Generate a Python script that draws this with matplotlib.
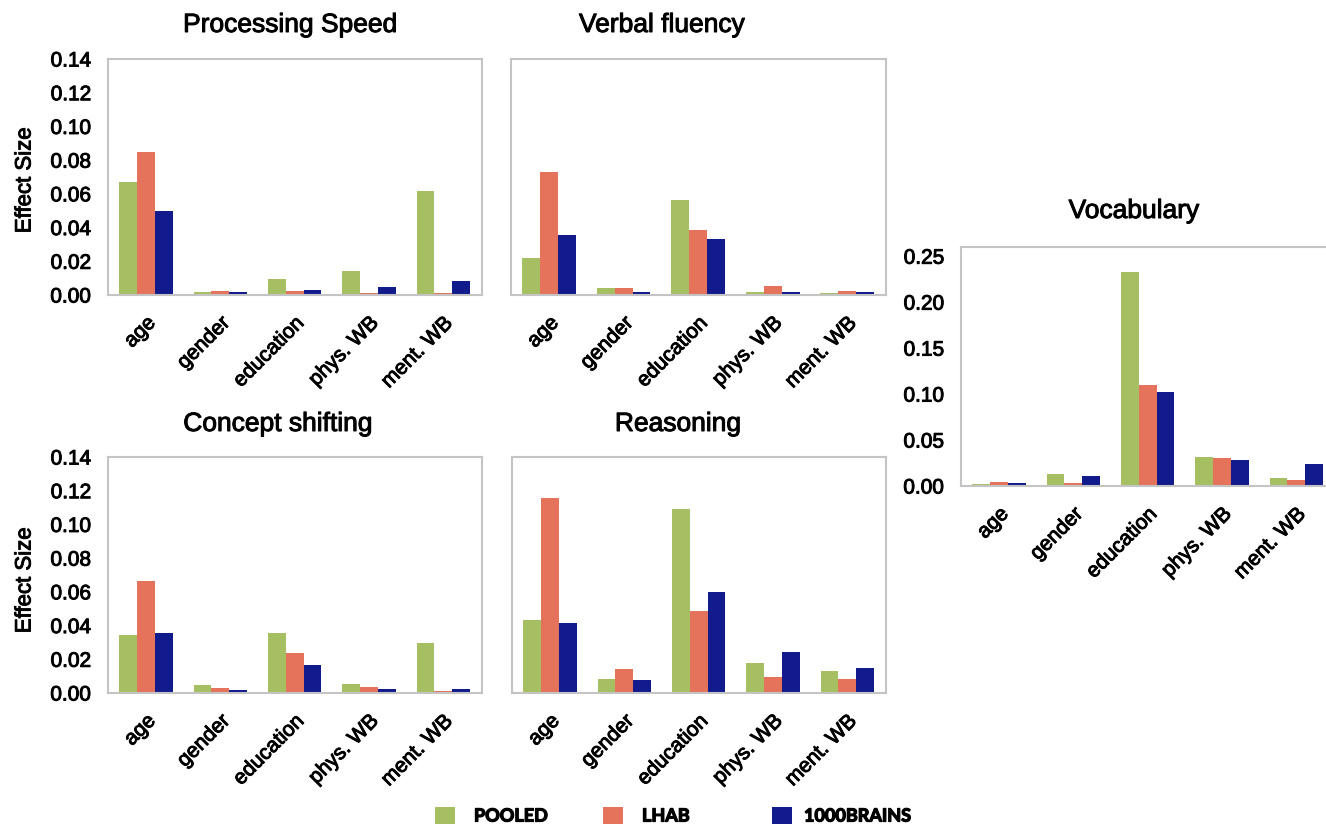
import numpy as np
import matplotlib
matplotlib.use("Agg")
import matplotlib.pyplot as plt
import matplotlib.patheffects as pe
from matplotlib.patches import Rectangle

plt.rcParams["font.family"] = ["Liberation Sans", "DejaVu Sans"]

W, H = 1326, 824  # canvas in pixels

FACTORS = ["age", "gender", "education", "phys. WB", "ment. WB"]
COHORTS = ["POOLED", "LHAB", "1000BRAINS"]
COLORS = ["#a6bf63", "#e5735c", "#111b8c"]

# effect sizes per factor, one list per cohort
speed_pooled = [0.067, 0.002, 0.0093, 0.0142, 0.0617]
speed_lhab = [0.085, 0.0025, 0.0025, 0.0012, 0.0012]
speed_1000b = [0.0498, 0.0015, 0.003, 0.005, 0.0083]

verbal_pooled = [0.0217, 0.0043, 0.0566, 0.0016, 0.0014]
verbal_lhab = [0.073, 0.0043, 0.0383, 0.0053, 0.0026]
verbal_1000b = [0.0355, 0.0016, 0.0333, 0.0016, 0.0016]

shift_pooled = [0.0342, 0.0045, 0.0356, 0.0055, 0.0299]
shift_lhab = [0.0666, 0.003, 0.0235, 0.0038, 0.0012]
shift_1000b = [0.0356, 0.0016, 0.0166, 0.0024, 0.0024]

reason_pooled = [0.0432, 0.0081, 0.1094, 0.0177, 0.0132]
reason_lhab = [0.1158, 0.0142, 0.0489, 0.0095, 0.0085]
reason_1000b = [0.0414, 0.0075, 0.0601, 0.0245, 0.0148]

vocab_pooled = [0.0025, 0.0134, 0.2326, 0.0315, 0.0083]
vocab_lhab = [0.0043, 0.003, 0.1094, 0.0308, 0.0069]
vocab_1000b = [0.003, 0.0109, 0.1022, 0.0286, 0.0236]

SMALL_TICKS = [0.0, 0.02, 0.04, 0.06, 0.08, 0.10, 0.12, 0.14]
VOCAB_TICKS = [0.0, 0.05, 0.10, 0.15, 0.20, 0.25]

# slightly heavier glyphs than plain regular weight
HEAVY = [pe.withStroke(linewidth=0.7, foreground="black")]


def px_rect(left, top, right, bottom):
    return [left / W, 1 - bottom / H, (right - left) / W, (bottom - top) / H]


# title, series, axes box (px), title centre x/y (px), y-limit, ticks, show y labels
panels = [
    ("Processing Speed", [speed_pooled, speed_lhab, speed_1000b],
     (108, 59, 482, 295), (290, 25), 0.14, SMALL_TICKS, True),
    ("Verbal fluency", [verbal_pooled, verbal_lhab, verbal_1000b],
     (511, 59, 886, 295), (662, 25), 0.14, SMALL_TICKS, False),
    ("Concept shifting", [shift_pooled, shift_lhab, shift_1000b],
     (108, 457, 482, 693), (278, 424), 0.14, SMALL_TICKS, True),
    ("Reasoning", [reason_pooled, reason_lhab, reason_1000b],
     (512, 457, 886, 693), (678, 424), 0.14, SMALL_TICKS, False),
    ("Vocabulary", [vocab_pooled, vocab_lhab, vocab_1000b],
     (961, 247, 1335, 486), (1134, 211), 0.26, VOCAB_TICKS, True),
]

fig = plt.figure(figsize=(W / 100, H / 100), dpi=100, facecolor="white")
bw = 0.24
x = np.arange(len(FACTORS))

for title, series, box, tpos, ytop, ticks, ylab in panels:
    ax = fig.add_axes(px_rect(*box))
    for k, vals in enumerate(series):
        ax.bar(x + (k - 1) * bw, vals, bw, color=COLORS[k], linewidth=0)
    ax.set_xlim(-0.51, 4.52)
    ax.set_ylim(0, ytop)
    ax.set_yticks(ticks)
    if ylab:
        ax.set_yticklabels([f"{t:.2f}" for t in ticks])
    else:
        ax.set_yticklabels([])
    ax.set_xticks(x)
    ax.set_xticklabels(FACTORS, rotation=45, ha="right", va="top",
                       rotation_mode="anchor")
    ax.tick_params(axis="both", length=0, labelsize=15)
    ax.tick_params(axis="y", pad=12)
    ax.tick_params(axis="x", pad=13)
    for lbl in ax.get_xticklabels() + ax.get_yticklabels():
        lbl.set_path_effects(HEAVY)
    for sp in ax.spines.values():
        sp.set_color("#c4c4c4")
        sp.set_linewidth(1.5)
    fig.text(tpos[0] / W, 1 - tpos[1] / H, title, ha="center", va="center",
             fontsize=19, path_effects=HEAVY)

for yc in (180, 580):
    fig.text(25 / W, 1 - yc / H, "Effect Size", rotation=90, ha="center",
             va="center", fontsize=16, path_effects=HEAVY)

# legend row along the bottom edge
for sq_x, txt_x, name, col in zip((435, 603, 772), (474, 642, 804), COHORTS, COLORS):
    fig.add_artist(Rectangle((sq_x / W, 1 - 828 / H), 20 / W, 21 / H,
                             transform=fig.transFigure, color=col, lw=0))
    fig.text(txt_x / W, 1 - 816 / H, name, ha="left", va="center",
             fontsize=13, fontweight="bold", family=["Lato", "DejaVu Sans"],
             path_effects=[pe.withStroke(linewidth=0.9, foreground="black")])

fig.savefig("out.png", dpi=100, facecolor="white")
